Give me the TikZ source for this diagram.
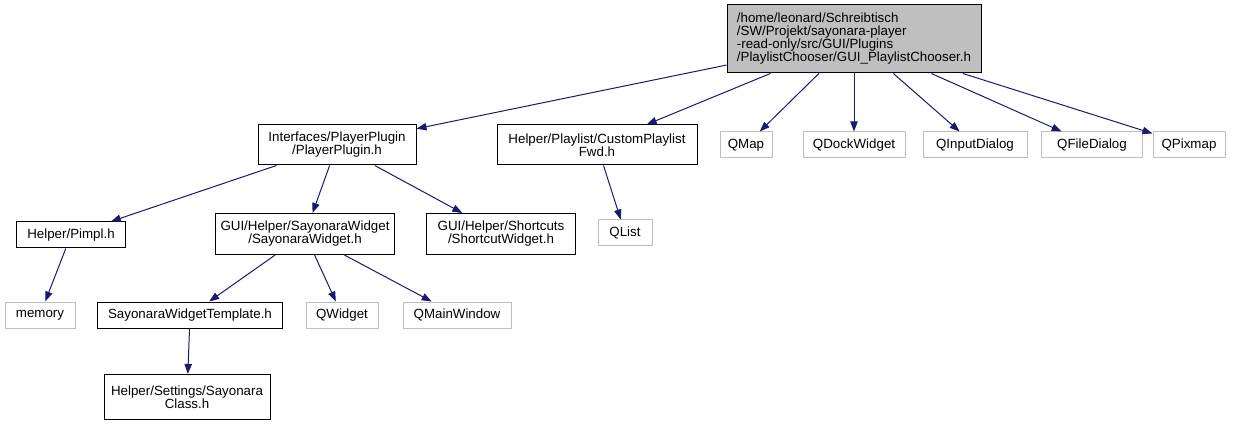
\documentclass[tikz,border=0pt]{standalone}
\usepackage{fontspec}
\setmainfont{Liberation Sans}
\usetikzlibrary{arrows.meta,positioning}
\definecolor{edgeblue}{RGB}{25,25,112}
\definecolor{boxgray}{RGB}{191,191,191}

\begin{document}
\begin{tikzpicture}[x=0.75pt,y=-0.75pt,
  file/.style={draw=black,fill=white,line width=0.75pt,inner sep=0pt,
    align=center,font=\fontsize{10}{9.75}\selectfont},
  ext/.style={file,draw=boxgray},
  root/.style={file,fill=boxgray,align=left},
  dep/.style={-{Triangle[length=7.5pt,width=5.5pt]},draw=edgeblue,line width=0.75pt}]
\useasboundingbox (0,0) rectangle (1250,424);

% top level
\node [root,minimum width=190.5pt,minimum height=51pt] (chooser) at (854,39)
  {/home/leonard/Schreibtisch\\/SW/Projekt/sayonara-player\\-read-only/src/GUI/Plugins\\/PlaylistChooser/GUI\_PlaylistChooser.h};

% second row
\node [file,minimum width=118.5pt,minimum height=30pt] (plugin) at (337,145) {Interfaces/PlayerPlugin\\/PlayerPlugin.h};
\node [file,minimum width=150pt,minimum height=30pt] (custom) at (597,145) {Helper/Playlist/CustomPlaylist\\Fwd.h};
\node [ext,minimum width=39pt,minimum height=19.5pt] (qmap) at (746,145) {QMap};
\node [ext,minimum width=76.5pt,minimum height=19.5pt] (qdock) at (854,145) {QDockWidget};
\node [ext,minimum width=78pt,minimum height=19.5pt] (qinput) at (975,145) {QInputDialog};
\node [ext,minimum width=75.75pt,minimum height=19.5pt] (qfile) at (1092,145) {QFileDialog};
\node [ext,minimum width=54pt,minimum height=19.5pt] (qpix) at (1189,145) {QPixmap};

% third row
\node [file,minimum width=81.75pt,minimum height=19.5pt] (pimpl) at (71,235) {Helper/Pimpl.h};
\node [file,minimum width=134.25pt,minimum height=30.75pt] (widget) at (305,234) {GUI/Helper/SayonaraWidget\\/SayonaraWidget.h};
\node [file,minimum width=111.75pt,minimum height=30.75pt] (shortcut) at (501,234) {GUI/Helper/Shortcuts\\/ShortcutWidget.h};
\node [ext,minimum width=40.5pt,minimum height=19.5pt] (qlist) at (625,233) {QList};

% fourth row
\node [ext,minimum width=52.5pt,minimum height=19.5pt] (memory) at (40,315) {memory};
\node [file,minimum width=138.75pt,minimum height=19.5pt] (template) at (190,315) {SayonaraWidgetTemplate.h};
\node [ext,minimum width=54pt,minimum height=19.5pt] (qwidget) at (342,315) {QWidget};
\node [ext,minimum width=81pt,minimum height=19.5pt] (qmain) at (457,315) {QMainWindow};

% bottom
\node [file,minimum width=124.5pt,minimum height=33.75pt] (settings) at (187,397) {Helper/Settings/Sayonara\\Class.h};

\foreach \dst in {plugin,custom,qmap,qdock,qinput,qfile,qpix}
  \draw [dep] (chooser) -- (\dst);
\foreach \dst in {pimpl,widget,shortcut}
  \draw [dep] (plugin) -- (\dst);
\draw [dep] (custom) -- (qlist);
\draw [dep] (pimpl) -- (memory);
\foreach \dst in {template,qwidget,qmain}
  \draw [dep] (widget) -- (\dst);
\draw [dep] (template) -- (settings);
\end{tikzpicture}
\end{document}
